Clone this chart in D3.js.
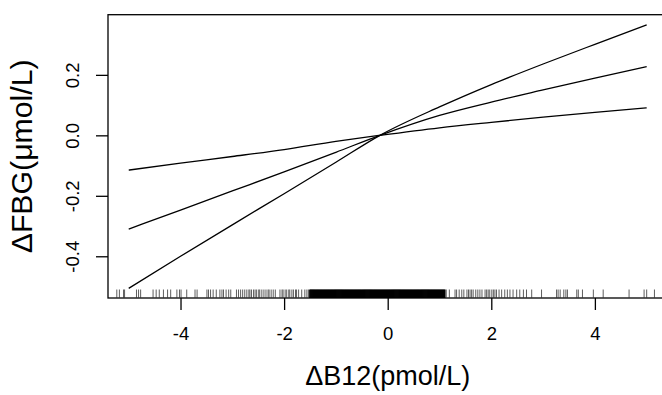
<!DOCTYPE html>
<html><head><meta charset="utf-8">
<script src="https://cdn.jsdelivr.net/npm/d3@7"></script>
<style>body{margin:0;background:#fff;} svg{display:block;}</style>
</head><body>
<svg id="c" width="662" height="395"></svg>
<script>
const xValues = [-5,-4,-3,-2,-1,-0.15,1,2,3,4,5];
const fitValues = [-0.310,-0.247,-0.184,-0.121,-0.056,0,0.066,0.110,0.150,0.189,0.227];
const ciSteepValues = [-0.506,-0.400,-0.296,-0.193,-0.089,0,0.094,0.168,0.236,0.301,0.365];
const ciFlatValues = [-0.115,-0.092,-0.070,-0.047,-0.020,0,0.025,0.043,0.060,0.076,0.091];
const xTicks = [-4,-2,0,2,4];
const yTicks = [-0.4,-0.2,0.0,0.2];
const yTickLabels = ["-0.4","-0.2","0.0","0.2"];
const rugLeft = [-5.23,-5.18,-5.10,-5.08,-4.85,-4.81,-4.77,-4.53,-4.47,-4.41,-4.33,-4.25,-4.19,-4.07,-4.02,-3.99,-3.88,-3.72,-3.68,-3.49,-3.46,-3.42,-3.37,-3.31,-3.24,-3.20,-3.17,-3.12,-3.07,-3.03,-2.92,-2.88,-2.84,-2.80,-2.76,-2.72,-2.68,-2.66,-2.63,-2.59,-2.56,-2.53,-2.49,-2.47,-2.43,-2.39,-2.35,-2.31,-2.29,-2.25,-2.21,-2.17,-2.08,-2.04,-2.02,-1.98,-1.95,-1.91,-1.89,-1.85,-1.82,-1.78,-1.76,-1.72,-1.66,-1.60,-1.56,-1.53];
const rugCenter = [-1.50,-1.48,-1.46,-1.44,-1.42,-1.40,-1.38,-1.36,-1.34,-1.32,-1.30,-1.28,-1.26,-1.24,-1.22,-1.20,-1.18,-1.16,-1.14,-1.12,-1.10,-1.08,-1.06,-1.04,-1.02,-1.00,-0.98,-0.96,-0.94,-0.92,-0.90,-0.88,-0.86,-0.84,-0.82,-0.80,-0.78,-0.76,-0.74,-0.72,-0.70,-0.68,-0.66,-0.64,-0.62,-0.60,-0.58,-0.56,-0.54,-0.52,-0.50,-0.48,-0.46,-0.44,-0.42,-0.40,-0.38,-0.36,-0.34,-0.32,-0.30,-0.28,-0.26,-0.24,-0.22,-0.20,-0.18,-0.16,-0.14,-0.12,-0.10,-0.08,-0.06,-0.04,-0.02,0.00,0.02,0.04,0.06,0.08,0.10,0.12,0.14,0.16,0.18,0.20,0.22,0.24,0.26,0.28,0.30,0.32,0.34,0.36,0.38,0.40,0.42,0.44,0.46,0.48,0.50,0.52,0.54,0.56,0.58,0.60,0.62,0.64,0.66,0.68,0.70,0.72,0.74,0.76,0.78,0.80,0.82,0.84,0.86,0.88,0.90,0.92,0.94,0.96,0.98,1.00,1.02,1.04,1.06,1.08,1.10];
const rugRight = [1.13,1.19,1.30,1.33,1.38,1.43,1.47,1.53,1.56,1.59,1.62,1.65,1.70,1.74,1.78,1.82,1.88,1.91,1.94,1.97,2.01,2.04,2.07,2.10,2.15,2.20,2.26,2.31,2.36,2.42,2.49,2.55,2.62,2.68,2.78,2.97,3.26,3.29,3.33,3.40,3.44,3.47,3.65,3.68,3.76,3.97,4.16,4.66,4.95,5.00,5.15];
const xLabel = "ΔB12(pmol/L)";
const yLabel = "ΔFBG(μmol/L)";

const svg = d3.select("#c");
const L = 108, R = 667.4, T = 14.7, B = 298;
const x = d3.scaleLinear().domain([-5.4,5.4]).range([L,R]);
const y = d3.scaleLinear().domain([-0.538,0.399]).range([B,T]);
const FONT = "Liberation Sans, Arial, sans-serif";

// box
svg.append("rect").attr("x",L).attr("y",T).attr("width",R-L).attr("height",B-T)
  .attr("fill","none").attr("stroke","#000").attr("stroke-width",1.3);

// rug
function drawRug(vals, w, col){
  svg.append("g").selectAll("line").data(vals).join("line")
    .attr("x1",d=>x(d)).attr("x2",d=>x(d)).attr("y1",B).attr("y2",B-8.5)
    .attr("stroke",col).attr("stroke-width",w);
}
drawRug(rugLeft, 0.8, "#333");
drawRug(rugCenter, 1.8, "#000");
drawRug(rugRight, 0.8, "#333");

// curves
const pts = (vals)=>xValues.map((v,i)=>[v,vals[i]]);
const line = d3.line().x(d=>x(d[0])).y(d=>y(d[1])).curve(d3.curveMonotoneX);
[fitValues, ciSteepValues, ciFlatValues].forEach(vals=>{
  svg.append("path").attr("d",line(pts(vals))).attr("fill","none")
    .attr("stroke","#000").attr("stroke-width",1.3);
});

// x axis
const xa = svg.append("g").attr("transform",`translate(0,${B})`)
  .call(d3.axisBottom(x).tickValues(xTicks).tickSize(12).tickSizeOuter(0).tickPadding(17).tickFormat(d=>String(d)));
xa.select(".domain").remove();
xa.selectAll("line").attr("stroke","#000").attr("stroke-width",1.3);
xa.selectAll("text").attr("font-family",FONT).attr("font-size",18.5).attr("fill","#000");

// y axis
const ya = svg.append("g").attr("transform",`translate(${L},0)`)
  .call(d3.axisLeft(y).tickValues(yTicks).tickSize(12).tickSizeOuter(0).tickFormat((d,i)=>yTickLabels[i]));
ya.select(".domain").remove();
ya.selectAll("line").attr("stroke","#000").attr("stroke-width",1.3);
ya.selectAll("text").attr("font-family",FONT).attr("font-size",18.5).attr("fill","#000")
  .attr("text-anchor","middle").attr("x",null).attr("dy",null)
  .attr("transform","translate(-29,0) rotate(-90)").attr("y",0);

// axis titles
svg.append("text").attr("x",x(0)).attr("y",385).attr("text-anchor","middle")
  .attr("font-family",FONT).attr("font-size",27).attr("fill","#000").text(xLabel);
svg.append("text").attr("transform",`translate(32,${(T+B)/2}) rotate(-90)`).attr("text-anchor","middle")
  .attr("font-family",FONT).attr("font-size",30).attr("fill","#000")
  .attr("textLength",194).attr("lengthAdjust","spacingAndGlyphs").text(yLabel);
</script>
</body></html>
